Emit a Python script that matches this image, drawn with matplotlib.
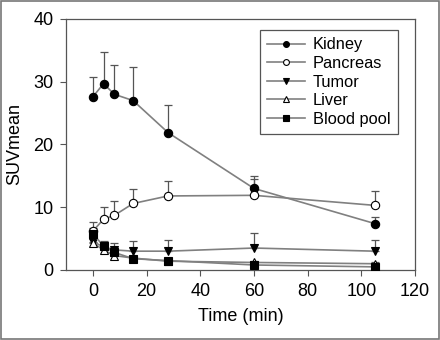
import numpy as np
import matplotlib
matplotlib.use("Agg")
import matplotlib.pyplot as plt

plt.rcParams['font.family'] = ['Liberation Sans', 'DejaVu Sans']

t = [0, 4, 8, 15, 28, 60, 105]
kidney = [27.6, 29.7, 28.0, 27.0, 21.9, 13.0, 7.4]
kidney_err = [3.1, 5.0, 4.7, 5.3, 4.4, 2.0, 1.1]
pancreas = [6.2, 8.1, 8.7, 10.6, 11.8, 11.9, 10.3]
pancreas_err = [1.5, 1.9, 2.3, 2.3, 2.4, 2.6, 2.3]
tumor = [4.5, 3.7, 3.2, 3.0, 3.0, 3.5, 3.0]
tumor_err = [0.9, 0.9, 1.1, 1.7, 1.8, 2.4, 1.8]
liver = [4.3, 3.2, 2.3, 1.9, 1.4, 1.2, 1.0]
liver_err = [0.6, 0.6, 0.5, 0.4, 0.3, 0.3, 0.3]
blood = [5.8, 3.8, 2.8, 1.8, 1.5, 0.8, 0.5]
blood_err = [0.9, 0.7, 0.6, 0.4, 0.3, 0.3, 0.2]

series = [
    ("Kidney", kidney, kidney_err, "o", "black"),
    ("Pancreas", pancreas, pancreas_err, "o", "white"),
    ("Tumor", tumor, tumor_err, "v", "black"),
    ("Liver", liver, liver_err, "^", "white"),
    ("Blood pool", blood, blood_err, "s", "black"),
]

fig = plt.figure(figsize=(4.4, 3.4), dpi=100)
ax = fig.add_axes([66/440, 1 - 270/340, (415-66)/440, (270-19)/340])

for name, y, e, m, fc in series:
    ax.errorbar(t, y, yerr=[np.zeros(len(e)), e], fmt='none', ecolor='#555555',
                elinewidth=0.9, capsize=3, capthick=0.9, zorder=2)
    ax.plot(t, y, color='#808080', lw=1.2, marker=m, ms=6, mfc=fc,
            mec='black', mew=0.8, label=name, zorder=3)

ax.set_xlim(-10, 120)
ax.set_ylim(0, 40)
ax.set_xticks([0, 20, 40, 60, 80, 100, 120])
ax.set_yticks([0, 10, 20, 30, 40])
ax.tick_params(direction='out', length=4, width=0.8, color='#555555', labelsize=13,
               top=False, right=False, pad=5)
for s in ax.spines.values():
    s.set_color('#555555')
    s.set_linewidth(0.9)
ax.set_xlabel("Time (min)", fontsize=13, labelpad=6)
ax.set_ylabel("SUVmean", fontsize=13, labelpad=7)

leg = ax.legend(loc='upper right', bbox_to_anchor=(0.951, 0.956), borderaxespad=0,
                fontsize=11.8, fancybox=False, framealpha=1, edgecolor='#555555',
                handlelength=2.3, labelspacing=0.22, handletextpad=0.5,
                borderpad=0.45, markerscale=0.7)
leg.get_frame().set_linewidth(0.9)

fig.patches.append(plt.Rectangle((0.003, 0.003), 0.994, 0.994, transform=fig.transFigure,
                                 fill=False, edgecolor='#777777', lw=1.2))

fig.savefig("out.png", dpi=100)
